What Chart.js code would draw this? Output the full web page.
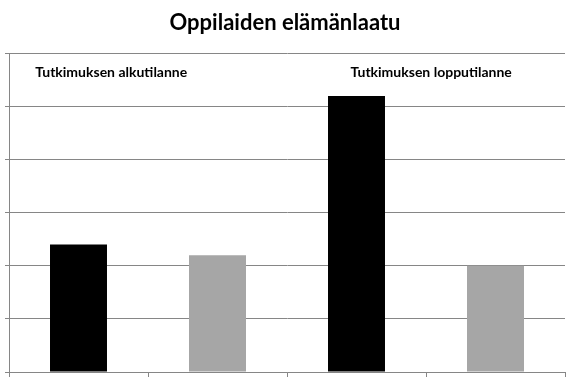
<!DOCTYPE html>
<html>
<head>
<meta charset="utf-8">
<script src="https://cdn.jsdelivr.net/npm/chart.js@4/dist/chart.umd.min.js"></script>
<style>
  html, body { margin: 0; padding: 0; background: #fff; }
  #wrap { width: 573px; height: 380px; }
</style>
</head>
<body>
<div id="wrap"><canvas id="myChart" width="573" height="380"></canvas></div>
<script>
// data
var categories = ['', '', '', ''];
var values = [2.4, 2.2, 5.2, 2.0];
var barColors = ['#000000', '#a6a6a6', '#000000', '#a6a6a6'];
var notes = ['Tutkimuksen alkutilanne', 'Tutkimuksen lopputilanne'];
var yTicks = [0, 1, 2, 3, 4, 5, 6];

var notePlugin = {
    id: 'notes',
    afterDatasetsDraw: function (chart) {
        var ctx = chart.ctx;
        var area = chart.chartArea;
        var w = area.right - area.left;
        ctx.save();
        ctx.font = 'bold 14px Lato';
        ctx.fillStyle = '#000';
        ctx.textBaseline = 'middle';
        ctx.textAlign = 'left';
        ctx.fillText(notes[0], area.left + w * 0.047, area.top + 19);
        ctx.fillText(notes[1], area.left + w * 0.614, area.top + 19);
        ctx.restore();
    }
};

var ctx = document.getElementById('myChart');
var myChart = new Chart(ctx, {
    type: 'bar',
    data: {
        labels: categories,
        datasets: [{
            data: values,
            backgroundColor: barColors,
            borderWidth: 0,
            barPercentage: 0.41,
            categoryPercentage: 1
        }]
    },
    options: {
        responsive: false,
        animation: false,
        layout: { padding: { left: 5, right: 8, top: 0, bottom: 3 } },
        plugins: {
            legend: { display: false },
            tooltip: { enabled: false },
            title: {
                display: true,
                text: 'Oppilaiden elämänlaatu',
                color: '#000',
                font: { family: 'Lato', size: 22, weight: 'bold' },
                padding: { top: 10, bottom: 17 }
            }
        },
        scales: {
            x: {
                grid: { display: true, drawOnChartArea: false, drawTicks: true, tickLength: 5, color: '#868686', offset: true },
                border: { color: '#868686' },
                ticks: { display: false }
            },
            y: {
                min: yTicks[0],
                max: yTicks[yTicks.length - 1],
                afterBuildTicks: function (axis) {
                    axis.ticks = yTicks.map(function (v) { return { value: v }; });
                },
                grid: { color: '#868686', tickLength: 4, drawTicks: true },
                border: { color: '#868686' },
                ticks: { display: false }
            }
        }
    },
    plugins: [notePlugin]
});
</script>
</body>
</html>
